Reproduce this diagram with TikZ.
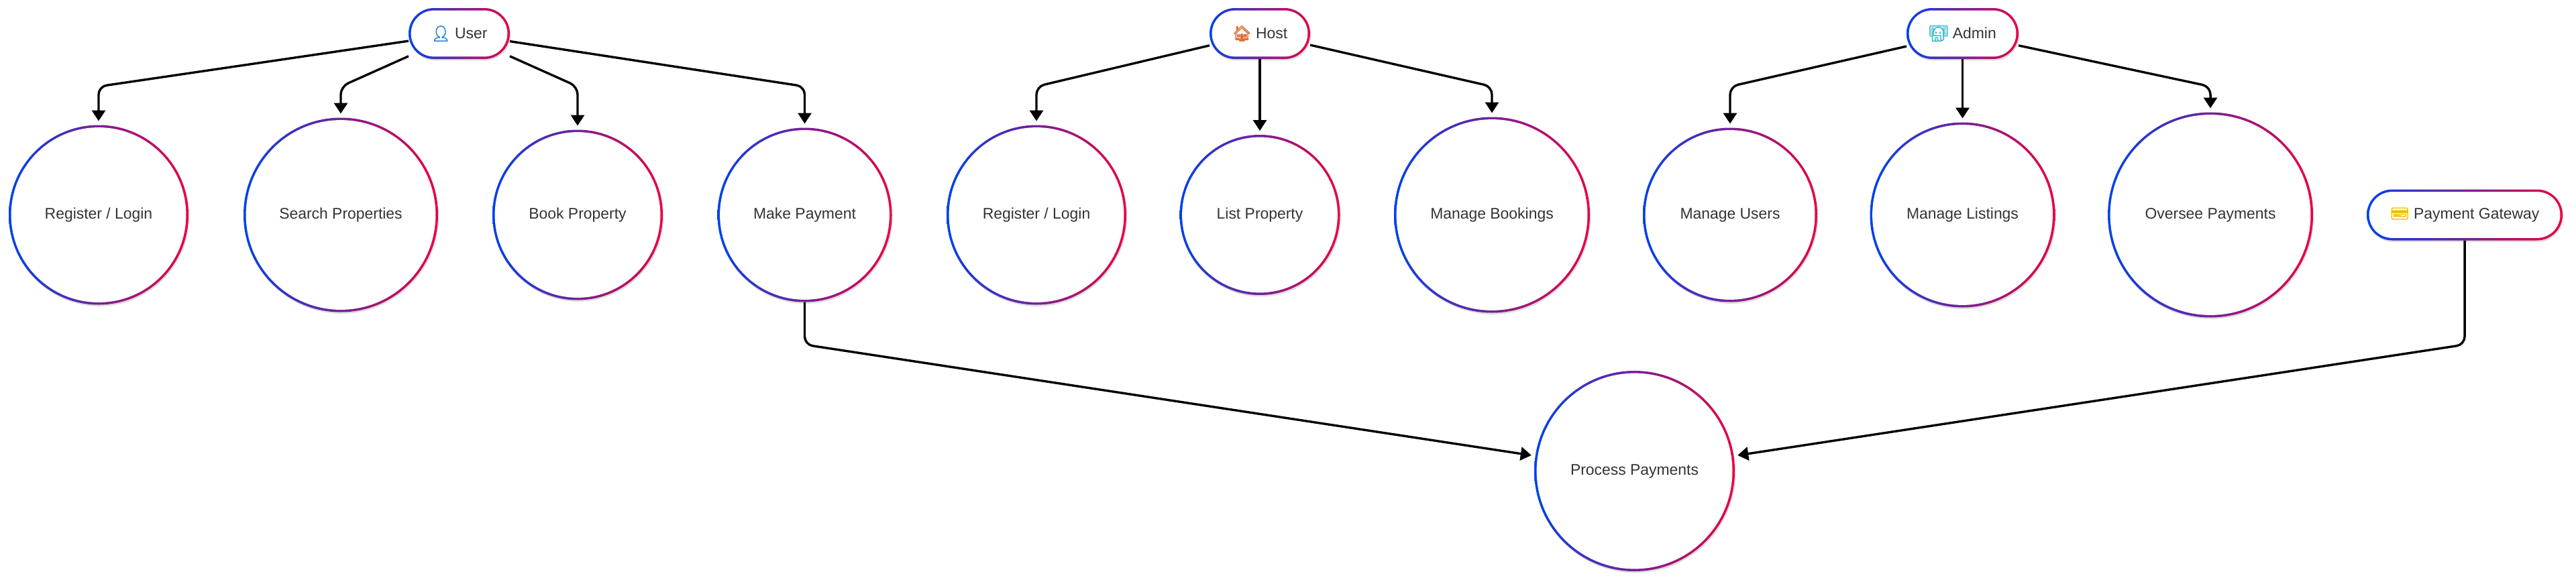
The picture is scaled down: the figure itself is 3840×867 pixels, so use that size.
\documentclass[tikz,border=0pt]{standalone}
\usepackage{fontspec}
\setmainfont{Liberation Sans}
\newfontfamily\emojifont[FakeBold=1.8]{Noto Emoji}
\usetikzlibrary{arrows.meta,shadows}

\definecolor{gradstart}{HTML}{0042EB}
\definecolor{gradstop}{HTML}{EB0042}
\definecolor{labeltext}{HTML}{333333}

\tikzset{
  gradnode/.style={left color=gradstart,right color=gradstop,inner sep=0pt,outer sep=0pt,
    text=labeltext,font=\fontsize{5.73}{7}\selectfont,
    drop shadow={shadow xshift=0.3pt,shadow yshift=-0.6pt,fill=black,opacity=0.13}},
  usecase/.style={gradnode,circle,minimum size=#1*0.5pt,
    path picture={\fill[white] (path picture bounding box.center) circle (#1-3.6);}},
  actor/.style={gradnode,rectangle,rounded corners=9.5pt,minimum height=19pt,minimum width=#1*0.25pt,
    path picture={\fill[white,rounded corners=8.6pt]
      ([xshift=0.9pt,yshift=0.9pt]path picture bounding box.south west) rectangle
      ([xshift=-0.9pt,yshift=-0.9pt]path picture bounding box.north east);}},
  link/.style={draw=black,line width=0.85pt,rounded corners=3pt,shorten >=1.5pt,
    -{Triangle[length=4pt,width=5pt]}}
}

\begin{document}
\begin{tikzpicture}[x=0.25pt,y=-0.25pt]
  \useasboundingbox (0,0) rectangle (3840,867);

  % actors
  \node[actor=151] (user) at (684.5,50) {{\emojifont\textcolor[HTML]{1976D2}{^^^^^1f464}} User};
  \node[actor=150] (host) at (1878,50) {{\emojifont\textcolor[HTML]{E0703A}{^^^^^1f3e0}} Host};
  \node[actor=167] (admin) at (2925.5,50) {{\emojifont\textcolor[HTML]{23B5C9}{^^^^^1f469^^^^200d^^^^^1f4bb}} Admin};
  \node[actor=292] (gateway) at (3674,320.5) {{\emojifont\textcolor[HTML]{F5B800}{^^^^^1f4b3}} Payment Gateway};

  % use cases
  \node[usecase=134] (userlogin) at (147,320.5) {Register / Login};
  \node[usecase=145] (usersearch) at (508,320.5) {Search Properties};
  \node[usecase=127] (userbook) at (861,320.5) {Book Property};
  \node[usecase=130] (userpay) at (1199.5,320.5) {Make Payment};
  \node[usecase=134] (hostlogin) at (1545,320.5) {Register / Login};
  \node[usecase=119.5] (hostlist) at (1878,320.5) {List Property};
  \node[usecase=146] (hostbook) at (2224,320.5) {Manage Bookings};
  \node[usecase=130] (adminusers) at (2579,320.5) {Manage Users};
  \node[usecase=138] (adminlist) at (2925.5,320.5) {Manage Listings};
  \node[usecase=153] (adminpay) at (3295,320.5) {Oversee Payments};
  \node[usecase=149.5] (process) at (2436.5,702.5) {Process Payments};

  % bends
  \coordinate (b1) at (147,129);
  \coordinate (b2) at (508,129);
  \coordinate (b3) at (861,129);
  \coordinate (b4) at (1199.5,129);
  \coordinate (b5) at (1545,129);
  \coordinate (b6) at (2224,129);
  \coordinate (b7) at (2579,129);
  \coordinate (b8) at (3295,129);
  \coordinate (b9) at (1199.5,514);
  \coordinate (b10) at (3674,514);

  \draw[link] (user) -- (b1) -- (userlogin);
  \draw[link] (user) -- (b2) -- (usersearch);
  \draw[link] (user) -- (b3) -- (userbook);
  \draw[link] (user) -- (b4) -- (userpay);
  \draw[link] (host) -- (b5) -- (hostlogin);
  \draw[link] (host) -- (hostlist);
  \draw[link] (host) -- (b6) -- (hostbook);
  \draw[link] (admin) -- (b7) -- (adminusers);
  \draw[link] (admin) -- (adminlist);
  \draw[link] (admin) -- (b8) -- (adminpay);
  \draw[link] (userpay) -- (b9) -- (process);
  \draw[link] (gateway) -- (b10) -- (process);
\end{tikzpicture}
\end{document}
